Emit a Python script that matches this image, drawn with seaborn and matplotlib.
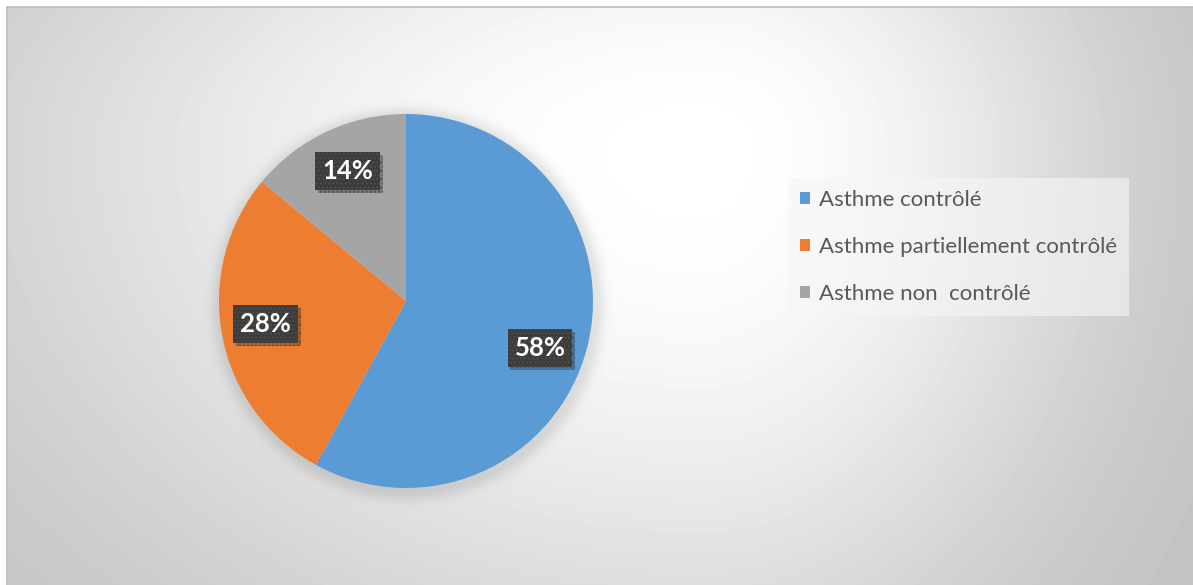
import numpy as np
import matplotlib
matplotlib.use("Agg")
import matplotlib.pyplot as plt
import matplotlib.patheffects as pe
import seaborn as sns

# Asthma control distribution
categories = ["Asthme contrôlé", "Asthme partiellement contrôlé", "Asthme non  contrôlé"]
shares = [58, 28, 14]
slice_colors = ["#5B9BD5", "#ED7D31", "#A5A5A5"]

sns.set_theme(style="white")
plt.rcParams["font.family"] = ["Lato", "DejaVu Sans"]
palette = sns.color_palette(slice_colors)

W, H = 1193, 585
fig = plt.figure(figsize=(W / 100, H / 100), dpi=100, facecolor="white")

# Chart area with a soft off-centre gradient fill
left_px, top_px = 7, 7
bg = fig.add_axes([left_px / W, 0, 1 - left_px / W, 1 - top_px / H])
xs = np.arange(left_px, W) + 0.5
ys = np.arange(top_px, H) + 0.5
X, Y = np.meshgrid(xs, ys)
gx, gy = 700, 150
dx = np.where(X > gx, (X - gx) / 470, (gx - X) / 820)
dy = np.where(Y > gy, (Y - gy) / 600, (gy - Y) / 400)
val = 255 - 64 * np.tanh(1.1 * (dx ** 2 + dy ** 2))

# soft shadow around the pie
pcx, pcy, R = 406, 301, 187
r = np.hypot(X - pcx - 2, Y - pcy - 3)
outside = np.clip(r - R, 0, None)
val -= 24 * np.exp(-(outside / 10) ** 2)
img = np.clip(val, 0, 255) / 255
bg.imshow(img, cmap="gray", vmin=0, vmax=1, extent=[0, 1, 0, 1],
          aspect="auto", interpolation="bilinear")
bg.set_xticks([])
bg.set_yticks([])
for side in ["right", "bottom"]:
    bg.spines[side].set_visible(False)
for side in ["top", "left"]:
    bg.spines[side].set_color("#bdbdbd")
    bg.spines[side].set_linewidth(1.2)

# Pie
pie_ax = fig.add_axes([(pcx - R) / W, (H - pcy - R) / H, 2 * R / W, 2 * R / H])
wedges, _ = pie_ax.pie(shares, colors=palette, startangle=90, counterclock=False,
                       radius=1, wedgeprops=dict(linewidth=0))
pie_ax.set_xlim(-1, 1)
pie_ax.set_ylim(-1, 1)
pie_ax.set_aspect("auto")
pie_ax.axis("off")

# Percentage labels in dark boxes
label_r = 0.76
angle_shift = [-5.0, -1.5, -1.0]
for w, v, sh in zip(wedges, shares, angle_shift):
    mid = np.deg2rad((w.theta1 + w.theta2) / 2 + sh)
    x, y = label_r * np.cos(mid), label_r * np.sin(mid)
    t = pie_ax.text(x, y, f"{v}%", ha="center", va="center", color="white",
                    fontsize=18.5, fontweight="bold",
                    bbox=dict(boxstyle="square,pad=0.27", facecolor="#3c3c3c",
                              edgecolor="#4d4d4d", linewidth=0, hatch="...."))
    t.get_bbox_patch().set_path_effects(
        [pe.withSimplePatchShadow(offset=(2, -2), shadow_rgbFace="black", alpha=0.25),
         pe.Normal()])

# Legend
leg = fig.legend(wedges, categories, loc="upper left",
                 bbox_to_anchor=(788 / W, 1 - 178 / H), frameon=True,
                 borderaxespad=0, fontsize=16, handlelength=0.45, handleheight=0.45,
                 handletextpad=0.4, labelspacing=1.2, borderpad=0.55,
                 labelcolor="#595959")
frame = leg.get_frame()
frame.set_facecolor("#f6f6f6")
frame.set_alpha(0.6)
frame.set_edgecolor("none")
frame.set_boxstyle("square,pad=0")

fig.savefig("out.png", dpi=100, facecolor="white")
